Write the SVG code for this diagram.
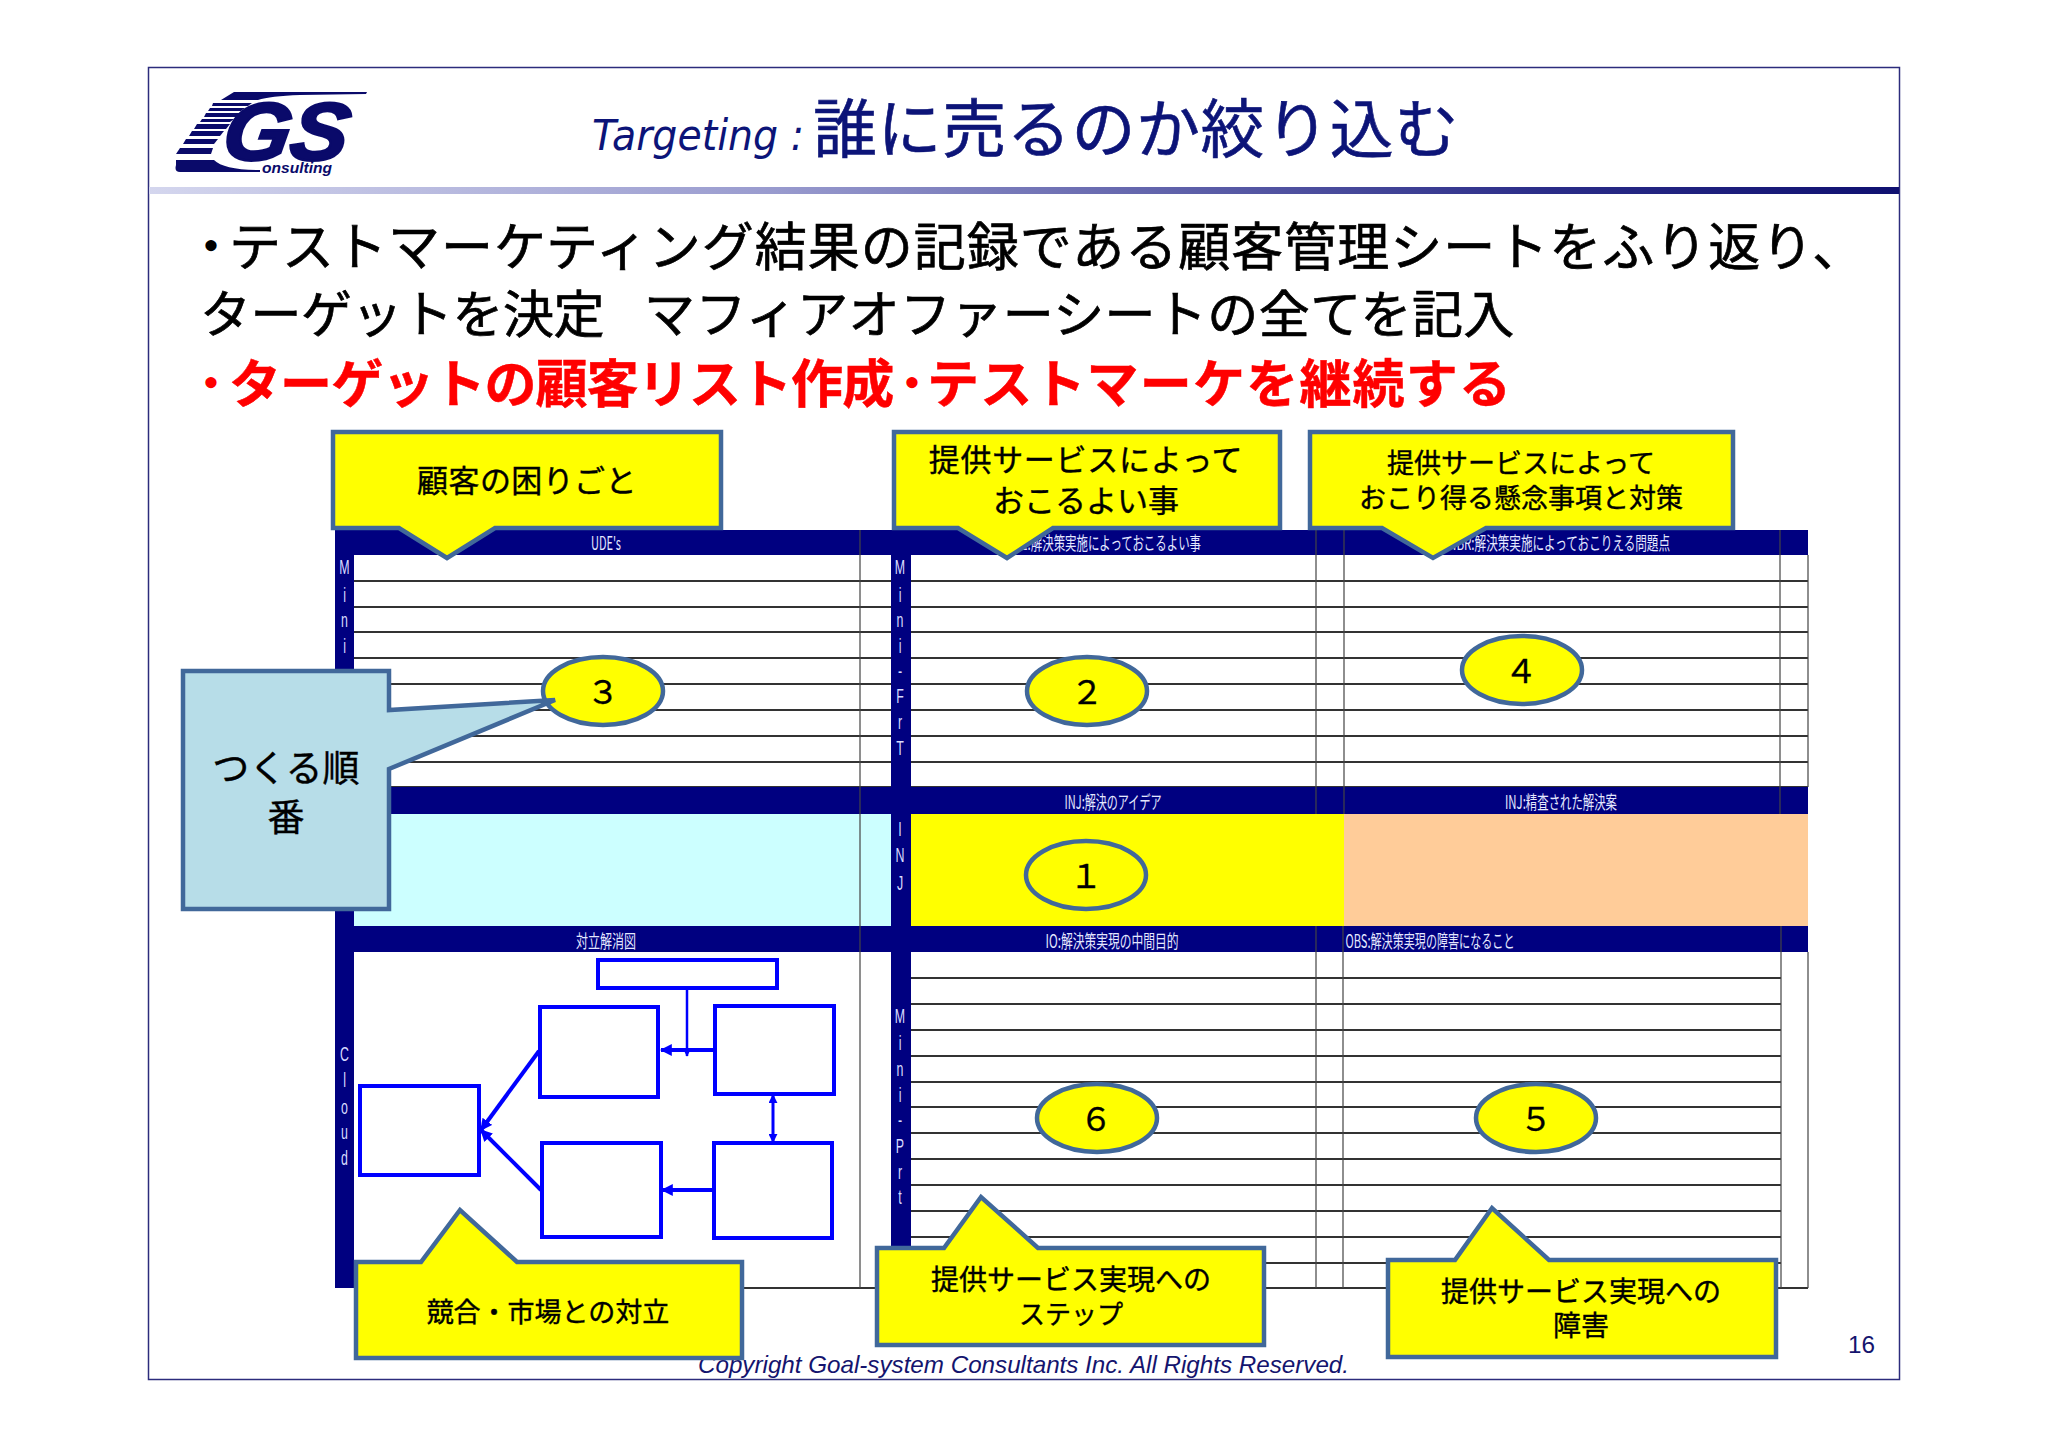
<svg xmlns="http://www.w3.org/2000/svg" width="2048" height="1447" viewBox="0 0 2048 1447">
<style>
text{font-family:"Noto Sans CJK JP","Liberation Sans",sans-serif}
.latin{font-family:"Liberation Sans",Arial,sans-serif}
.body{font-size:52px;fill:#000;stroke:#000;stroke-width:.7px}
.red{fill:#ff0000;stroke:#ff0000;stroke-width:.5px;font-weight:700}
.dot{font-size:36px;font-weight:700;stroke-width:2px}
.band{fill:#000080}
.row{stroke:#333;stroke-width:2;fill:none}
.col{stroke:#444;stroke-width:1.2;fill:none}
.small{font-size:18px;fill:#e4e8ff;text-anchor:middle;dominant-baseline:central}
.side{font-family:"Liberation Sans",sans-serif;font-size:20px;fill:#d8dcff;text-anchor:middle;dominant-baseline:central}
.co{fill:#ffff00;stroke:#41689a;stroke-width:4.500;stroke-linejoin:miter}
.ct{fill:#000;stroke:#000;stroke-width:.4px;text-anchor:middle}
.el{fill:#ffff00;stroke:#41689a;stroke-width:4.500}
.num{font-size:33px;fill:#000;stroke:#000;stroke-width:.3px;text-anchor:middle;dominant-baseline:central}
.bx{fill:#fff;stroke:#0000ff;stroke-width:4}
.cn{stroke:#0000ff;fill:none}
</style>
<defs>
<linearGradient id="rule" x1="0" x2="1" y1="0" y2="0">
<stop offset="0" stop-color="#d4d6ee"/><stop offset="0.35" stop-color="#9a9ccf"/><stop offset="0.8" stop-color="#2a2c88"/><stop offset="1" stop-color="#0f1070"/>
</linearGradient>
<marker id="ah" viewBox="0 0 10 10" refX="9" refY="5" markerWidth="3" markerHeight="3" orient="auto-start-reverse"><path d="M0 0L10 5L0 10z" fill="#0000ff"/></marker>
</defs>
<rect width="2048" height="1447" fill="#fff"/>
<rect x="148.500" y="67.500" width="1751" height="1312" fill="#fff" stroke="#2c2c7c" stroke-width="1.500"/>
<rect x="149" y="187" width="1750" height="7" fill="url(#rule)"/>

<g id="logo">
<g fill="#0a0a6a">
<path d="M221 100L234 92L367 92L366 94L300 95Q270 96 258 100z"/>
<path d="M213 103L252 103L248 106L212 106z"/>
<path d="M210 108L245 108L241 111L208 111z"/>
<path d="M206 113L240 113L236 117L204 117z"/>
<path d="M202 119L234 119L230 122L200 122z"/>
<path d="M197 124L230 124L226 129L194 129z"/>
<path d="M192 131L224 131L220 136L189 136z"/>
<path d="M186 139L218 139L214 144L183 144z"/>
<path d="M180 148L213 148L211 154L176 154z"/>
<path d="M176 160L214 160Q224 170 260 170L260 172L180 172Q174 172 176 165z"/>
</g>
<text class="latin" transform="translate(220 160) skewX(-9)" x="0" y="0" font-size="82" font-weight="700" font-style="italic" fill="#0a0a6a" stroke="#0a0a6a" stroke-width="2.500" textLength="125" lengthAdjust="spacingAndGlyphs">GS</text>
<text class="latin" x="262" y="173" font-size="15" font-weight="700" font-style="italic" fill="#0a0a6a" textLength="70" lengthAdjust="spacingAndGlyphs">onsulting</text>
</g>

<g id="title">
<text x="592" y="150" font-size="42" font-style="italic" fill="#0c1478" style="font-family:'DejaVu Sans',sans-serif" textLength="212" lengthAdjust="spacingAndGlyphs">Targeting :</text>
<text x="813" y="152" font-size="64" fill="#0c1478" stroke="#0c1478" stroke-width=".6" letter-spacing=".6">誰に売るのか絞り込む</text>
</g>

<g id="body">
<text class="body" y="266"><tspan class="dot" x="193" dy="-6">・</tspan><tspan x="229" dy="6" style="letter-spacing:1px">テストマーケティング結果の記録である顧客管理シートをふり返り、</tspan></text>
<text class="body" y="333" style="font-size:51px"><tspan x="200" style="letter-spacing:-.5px">ターゲットを決定</tspan><tspan x="644" style="letter-spacing:.4px">マフィアオファーシートの全てを記入</tspan></text>
<text class="body red" y="403"><tspan class="dot" x="193" dy="-6">・</tspan><tspan x="229" dy="6" style="letter-spacing:-.9px">ターゲットの顧客リスト作成</tspan><tspan class="dot" x="894" dy="-6">・</tspan><tspan x="927" dy="6" style="letter-spacing:1.2px">テストマーケを継続する</tspan></text>
</g>

<g id="table">
<rect x="354" y="555" width="1454" height="232" fill="#fff"/>
<rect x="354" y="814" width="537" height="112" fill="#ccffff"/>
<rect x="911" y="814" width="433" height="112" fill="#ffff00"/>
<rect x="1344" y="813" width="464" height="113" fill="#ffcc99"/>
<g class="row">
<path d="M354 581H1808M354 607H1808M354 632H1808M354 658H1808M354 684H1808M354 710H1808M354 736H1808M354 762H1808M354 787H1808"/>
<path d="M911 978H1781M911 1004H1781M911 1030H1781M911 1056H1781M911 1082H1781M911 1107H1781M911 1133H1781M911 1159H1781M911 1185H1781M911 1211H1781M911 1237H1781M911 1263H1781"/>
<path d="M354 1288H1808"/>
</g>
<rect x="335" y="530" width="1473" height="25" class="band"/>
<rect x="335" y="787" width="1473" height="27" class="band"/>
<rect x="335" y="926" width="1473" height="26" class="band"/>
<rect x="335" y="530" width="19" height="758" class="band"/>
<rect x="891" y="530" width="20" height="740" class="band"/>
<g class="col">
<path d="M860 530V1288M1316 530V814M1344 530V814M1780 530V814M1808 555V787"/>
<path d="M1316 926V1288M1343 926V1288M1781 926V1288M1808 952V1288"/>
</g>
<text class="small" x="606" y="542" textLength="30" lengthAdjust="spacingAndGlyphs">UDE's</text>
<text class="small" x="1107" y="542" textLength="188" lengthAdjust="spacingAndGlyphs">DE:解決策実施によっておこるよい事</text>
<text class="small" x="1559" y="542" textLength="222" lengthAdjust="spacingAndGlyphs">NBR:解決策実施によっておこりえる問題点</text>
<text class="small" x="1113" y="801" textLength="97" lengthAdjust="spacingAndGlyphs">INJ:解決のアイデア</text>
<text class="small" x="1561" y="801" textLength="112" lengthAdjust="spacingAndGlyphs">INJ:精査された解決案</text>
<text class="small" x="606" y="940" textLength="60" lengthAdjust="spacingAndGlyphs">対立解消図</text>
<text class="small" x="1112" y="940" textLength="133" lengthAdjust="spacingAndGlyphs">IO:解決策実現の中間目的</text>
<text class="small" x="1430" y="940" textLength="169" lengthAdjust="spacingAndGlyphs">OBS:解決策実現の障害になること</text>
<g transform="translate(344.500 0) scale(.62 1)">
<text class="side" x="0" y="567">M</text><text class="side" x="0" y="595">i</text><text class="side" x="0" y="620">n</text><text class="side" x="0" y="646">i</text>
<text class="side" x="0" y="1054">C</text><text class="side" x="0" y="1080">l</text><text class="side" x="0" y="1107">o</text><text class="side" x="0" y="1132">u</text><text class="side" x="0" y="1158">d</text>
</g>
<g transform="translate(900 0) scale(.62 1)">
<text class="side" x="0" y="567">M</text><text class="side" x="0" y="595">i</text><text class="side" x="0" y="620">n</text><text class="side" x="0" y="646">i</text><text class="side" x="0" y="671">-</text><text class="side" x="0" y="696">F</text><text class="side" x="0" y="722">r</text><text class="side" x="0" y="748">T</text>
<text class="side" x="0" y="829">I</text><text class="side" x="0" y="855">N</text><text class="side" x="0" y="883">J</text>
<text class="side" x="0" y="1016">M</text><text class="side" x="0" y="1043">i</text><text class="side" x="0" y="1069">n</text><text class="side" x="0" y="1095">i</text><text class="side" x="0" y="1120">-</text><text class="side" x="0" y="1146">P</text><text class="side" x="0" y="1172">r</text><text class="side" x="0" y="1197">t</text>
</g>
</g>

<g id="conflict-boxes">
<rect id="box-top" class="bx" x="598" y="960" width="179" height="28"/>
<rect id="box-tl" class="bx" x="540" y="1007" width="118" height="90"/>
<rect id="box-tr" class="bx" x="715" y="1006" width="119" height="88"/>
<rect id="box-l" class="bx" x="360" y="1086" width="119" height="89"/>
<rect id="box-bl" class="bx" x="542" y="1143" width="119" height="94"/>
<rect id="box-br" class="bx" x="714" y="1143" width="118" height="95"/>
</g>
<g id="connectors">
<path class="cn" stroke-width="4" d="M714 1050H661" marker-end="url(#ah)"/>
<path class="cn" stroke-width="2.500" d="M687 988V1056" marker-end="url(#ah)"/>
<path class="cn" stroke-width="3" d="M773 1095V1142" marker-start="url(#ah)" marker-end="url(#ah)"/>
<path class="cn" stroke-width="4" d="M713 1190H662" marker-end="url(#ah)"/>
<path class="cn" stroke-width="4" d="M539 1051L481 1130" marker-end="url(#ah)"/>
<path class="cn" stroke-width="4" d="M541 1190L481 1130" marker-end="url(#ah)"/>
</g>

<text id="copyright" class="latin" x="698" y="1373" font-size="24" font-style="italic" fill="#14146e" textLength="651" lengthAdjust="spacingAndGlyphs">Copyright Goal-system Consultants Inc. All Rights Reserved.</text>
<text id="page-number" class="latin" x="1848" y="1353" font-size="24" fill="#14146e" textLength="27" lengthAdjust="spacingAndGlyphs">16</text>

<g id="callout-customer">
<path class="co" d="M333 432H721V528H495L447 558L399 528H333z"/>
<text class="ct" x="527" y="492" font-size="31" letter-spacing=".4">顧客の困りごと</text>
</g>
<g id="callout-good">
<path class="co" d="M894 432H1280V528H1053L1007 558L958 528H894z"/>
<text class="ct" x="1086" y="471" font-size="31" letter-spacing=".7">提供サービスによって</text>
<text class="ct" x="1086" y="512" font-size="31">おこるよい事</text>
</g>
<g id="callout-risk">
<path class="co" d="M1310 432H1733V528H1486L1433 558L1382 528H1310z"/>
<text class="ct" x="1521" y="473" font-size="27">提供サービスによって</text>
<text class="ct" x="1521" y="508" font-size="27">おこり得る懸念事項と対策</text>
</g>
<g id="callout-conflict">
<path class="co" d="M356 1262H421L460 1210L517 1262H742V1358H356z"/>
<text class="ct" x="548" y="1322" font-size="27">競合・市場との対立</text>
</g>
<g id="callout-step">
<path class="co" d="M877 1248H944L981 1197L1038 1248H1264V1345H877z"/>
<text class="ct" x="1071" y="1290" font-size="28">提供サービス実現への</text>
<text class="ct" x="1071" y="1324" font-size="26">ステップ</text>
</g>
<g id="callout-obstacle">
<path class="co" d="M1388 1260H1455L1492 1208L1549 1260H1776V1357H1388z"/>
<text class="ct" x="1581" y="1302" font-size="28">提供サービス実現への</text>
<text class="ct" x="1581" y="1336" font-size="28">障害</text>
</g>

<g id="n3"><ellipse class="el" cx="603" cy="691" rx="60" ry="34"/><text class="num" x="603" y="690">３</text></g>
<g id="order-callout">
<path d="M183 671H389V710L555 700L389 769V909H183z" fill="#b7dde8" stroke="#41689a" stroke-width="4.500"/>
<text class="ct" x="286" y="782" font-size="37">つくる順</text>
<text class="ct" x="286" y="831" font-size="37">番</text>
</g>
<g id="n2"><ellipse class="el" cx="1087" cy="691" rx="60" ry="34"/><text class="num" x="1087" y="690">２</text></g>
<g id="n4"><ellipse class="el" cx="1522" cy="670" rx="60" ry="34"/><text class="num" x="1521" y="669">４</text></g>
<g id="n1"><ellipse class="el" cx="1086" cy="875" rx="60" ry="34"/><text class="num" x="1086" y="874">１</text></g>
<g id="n6"><ellipse class="el" cx="1097" cy="1118" rx="60" ry="34"/><text class="num" x="1096" y="1117">６</text></g>
<g id="n5"><ellipse class="el" cx="1536" cy="1118" rx="60" ry="34"/><text class="num" x="1536" y="1117">５</text></g>
</svg>
